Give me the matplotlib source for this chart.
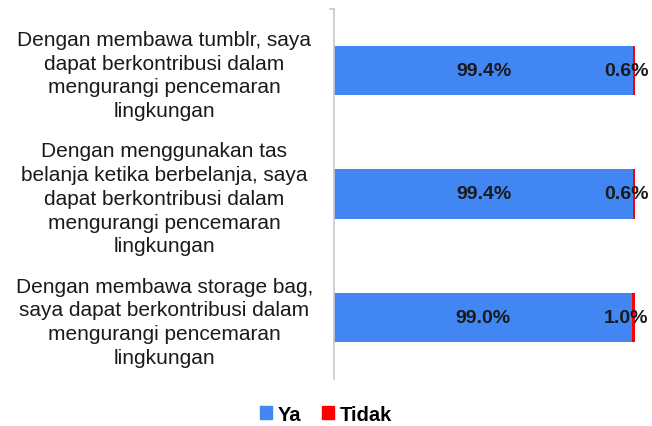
import matplotlib.pyplot as plt
from matplotlib.patches import Patch

plt.rcParams['font.family'] = ['Liberation Sans', 'DejaVu Sans']

# ===============================
# DATA
# ===============================

categories = [
    "Dengan membawa tumblr, saya\ndapat berkontribusi dalam\nmengurangi pencemaran\nlingkungan",
    "Dengan menggunakan tas\nbelanja ketika berbelanja, saya\ndapat berkontribusi dalam\nmengurangi pencemaran\nlingkungan",
    "Dengan membawa storage bag,\nsaya dapat berkontribusi dalam\nmengurangi pencemaran\nlingkungan",
]
ya = [99.4, 99.4, 99.0]
tidak = [0.6, 0.6, 1.0]

blue = "#4286f4"
red = "#ff0000"

fig = plt.figure(figsize=(6.52, 4.27), dpi=100)
ax = fig.add_axes([0.512, 0.11, 0.462, 0.867])

pos = list(range(len(categories)))[::-1]

ax.barh(pos, ya, height=0.4, color=blue, label="Ya")
ax.barh(pos, tidak, left=ya, height=0.4, color=red, label="Tidak")

for p, a, b in zip(pos, ya, tidak):
    ax.text(a / 2, p, f"{a:.1f}%", ha='center', va='center',
            fontsize=14, fontweight='bold', color='#1a1a1a')
    ax.text(a + b - 3, p, f"{b:.1f}%", ha='center', va='center',
            fontsize=14, fontweight='bold', color='#1a1a1a')

ax.set_xlim(0, 100)
ax.set_ylim(-0.5, 2.5)
ax.set_xticks([])
ax.set_yticks(pos)
ax.set_yticklabels(categories, ha='center', fontsize=15,
                   linespacing=1.32, color='#1a1a1a')
ax.tick_params(axis='y', length=0, pad=122)

for s in ['top', 'right', 'bottom']:
    ax.spines[s].set_visible(False)
ax.spines['left'].set_color('#c8c8c8')
ax.spines['left'].set_linewidth(1.2)
# small end tick at top of the axis
ax.plot([-1.2, 0], [2.5, 2.5], color='#c8c8c8', lw=1.2,
        clip_on=False, transform=ax.transData)

handles = [Patch(color=blue, label="Ya"), Patch(color=red, label="Tidak")]
fig.legend(handles=handles, loc='center', bbox_to_anchor=(0.5, 0.028),
           ncol=2, frameon=False, handlelength=0.6, handleheight=0.6,
           handletextpad=0.3, columnspacing=1.0,
           prop={'weight': 'bold', 'size': 14.5})

fig.savefig("out.png", dpi=100)
